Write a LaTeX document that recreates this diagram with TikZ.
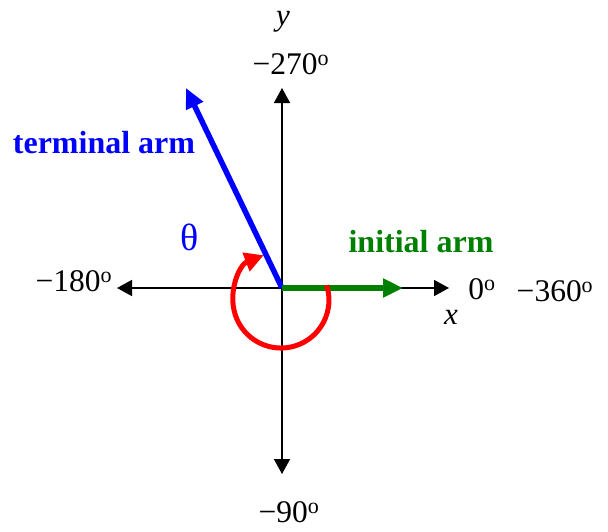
\documentclass[tikz,border=0pt]{standalone}
\usepackage{fontspec}
\setmainfont{Liberation Serif}
\usetikzlibrary{arrows.meta}
\definecolor{armgreen}{RGB}{0,128,0}
\begin{document}
\begin{tikzpicture}[x=1pt,y=1pt,
  axis/.style={line width=1.5pt,-{Triangle[length=15pt,width=16pt]}},
  armline/.style={line width=5.5pt,line cap=butt,-{Triangle[length=20pt,width=18pt]}},
  lbl/.style={inner sep=0pt,font=\fontsize{31.5}{36}\selectfont},
  armlbl/.style={inner sep=0pt,font=\fontsize{32}{38}\selectfont\bfseries}]
\useasboundingbox (0,0) rectangle (608,-531);
\coordinate (O) at (282,-288);
\coordinate (xl) at (117,-288);
\coordinate (xr) at (449,-288);
\coordinate (yt) at (282,-88);
\coordinate (yb) at (282,-474);
\coordinate (bt) at (186,-88);
\coordinate (gt) at (403,-288);
\coordinate (rs) at (326.6,-285.2);
% axes
\draw[axis] (O) -- (xl);
\draw[axis] (O) -- (xr);
\draw[axis] (O) -- (yt);
\draw[axis] (O) -- (yb);
% arms
\draw[armline,blue] (O) -- (bt);
\draw[armline,armgreen] (O) -- (gt);
% angle arc
\draw[line width=5pt,red,-{Triangle[length=19pt,width=19pt]}] (rs) arc[start angle=18,end angle=-249,radius=48];
% labels
\node[lbl,font=\fontsize{31}{36}\selectfont\itshape] (ylab) at (283,-22) {y};
\node[lbl] (l270) at (291,-64) {−270\textsuperscript{o}};
\node[lbl] (l180) at (74,-281) {−180\textsuperscript{o}};
\node[lbl] (l0) at (482,-289) {0\textsuperscript{o}};
\node[lbl] (l360) at (555,-291) {−360\textsuperscript{o}};
\node[lbl,font=\fontsize{31}{36}\selectfont\itshape] (xlab) at (451,-317) {x};
\node[lbl] (l90) at (289,-512) {−90\textsuperscript{o}};
\node[armlbl,blue] (term) at (104,-143) {terminal arm};
\node[armlbl,armgreen] (init) at (421,-242) {initial arm};
\node[lbl,blue,font=\fontsize{38}{44}\selectfont] (theta) at (190,-237) {θ};
\end{tikzpicture}
\end{document}
